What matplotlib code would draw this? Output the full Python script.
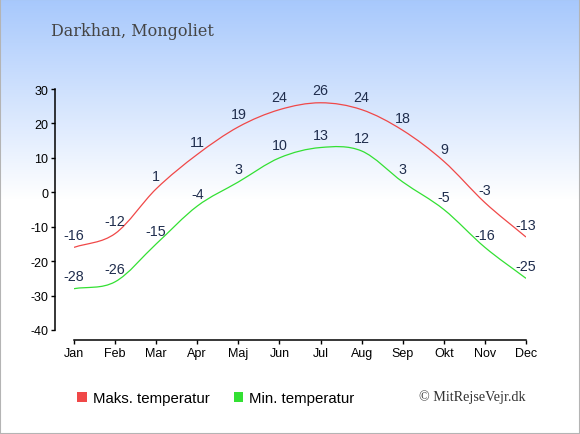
import numpy as np
import matplotlib
matplotlib.use("Agg")
import matplotlib.pyplot as plt
from matplotlib.path import Path
from matplotlib.patches import PathPatch, Patch, Rectangle

plt.rcParams["axes.unicode_minus"] = False

# data
months = ["Jan", "Feb", "Mar", "Apr", "Maj", "Jun", "Jul", "Aug", "Sep", "Okt", "Nov", "Dec"]
max_temp = [-16, -12, 1, 11, 19, 24, 26, 24, 18, 9, -3, -13]
min_temp = [-28, -26, -15, -4, 3, 10, 13, 12, 3, -5, -16, -25]
yticks = [-40, -30, -20, -10, 0, 10, 20, 30]

title = "Darkhan, Mongoliet"
credit = "\u00a9 MitRejseVejr.dk"
lbl_max = "Maks. temperatur"
lbl_min = "Min. temperatur"

red = "#f04848"
green = "#33e033"
label_col = "#1f2d4d"

W, H = 580, 435
fig = plt.figure(figsize=(W / 100, H / 100), dpi=100)

# background gradient
bg = fig.add_axes([0, 0, 1, 1], zorder=-5)
bg.axis("off")
top = np.array([0.655, 0.785, 0.99])
n = 435
frac = np.clip(np.arange(n) / 200.0, 0, 1)[:, None]
grad = top * (1 - frac) + np.ones(3) * frac
bg.imshow(grad[:, None, :].repeat(2, axis=1), aspect="auto", extent=[0, 1, 0, 1])
bg.set_xlim(0, 1)
bg.set_ylim(0, 1)

ax = fig.add_axes([74 / W, (H - 331) / H, (526 - 74) / W, (331 - 90) / H])
ax.set_facecolor("none")
x = np.arange(len(months))


def smooth_path(xs, ys):
    # cubic bezier through the points (catmull-rom style tangents)
    ys = np.asarray(ys, dtype=float)
    m = np.zeros_like(ys)
    m[1:-1] = (ys[2:] - ys[:-2]) / 2
    m[0] = ys[1] - ys[0]
    m[-1] = ys[-1] - ys[-2]
    verts = [(xs[0], ys[0])]
    codes = [Path.MOVETO]
    for i in range(len(xs) - 1):
        verts += [(xs[i] + 1 / 3, ys[i] + m[i] / 3),
                  (xs[i + 1] - 1 / 3, ys[i + 1] - m[i + 1] / 3),
                  (xs[i + 1], ys[i + 1])]
        codes += [Path.CURVE4] * 3
    return Path(verts, codes)


for vals, col in [(max_temp, red), (min_temp, green)]:
    ax.add_patch(PathPatch(smooth_path(x, vals), facecolor="none", edgecolor=col, lw=0.9))
    for xi, v in zip(x, vals):
        ax.annotate(str(v), (xi, v), xytext=(0, 9), textcoords="offset points",
                    ha="center", va="center", fontsize=10.3, color=label_col,
                    family="Liberation Sans")

ax.set_xlim(0, 11)
ax.set_ylim(-40, 30)
ax.set_xticks(x)
ax.set_xticklabels(months)
ax.set_yticks(yticks)
for s in ["top", "right"]:
    ax.spines[s].set_visible(False)
ax.spines["left"].set_position(("outward", 13.7))
ax.spines["bottom"].set_position(("outward", 7.2))
for s in ["left", "bottom"]:
    ax.spines[s].set_linewidth(1.1)
ax.tick_params(length=3, width=1, labelsize=9, pad=2)
for t in ax.get_xticklabels() + ax.get_yticklabels():
    t.set_family("Liberation Sans")

fig.text(51 / W, (H - 32) / H, title, fontsize=11.5, family="DejaVu Serif",
         color="#454545", va="center", ha="left")

handles = [Patch(facecolor=red, edgecolor="none"), Patch(facecolor=green, edgecolor="none")]
fig.legend(handles, [lbl_max, lbl_min], ncol=2, frameon=False,
           loc="center left", bbox_to_anchor=(77 / W, (H - 399) / H),
           prop={"family": "Liberation Sans", "size": 10.8},
           handlelength=0.65, handleheight=0.65, handletextpad=0.4,
           columnspacing=1.6, borderpad=0, borderaxespad=0)

fig.text(526 / W, (H - 397) / H, credit, fontsize=10.2, family="Liberation Serif",
         color="#333333", va="center", ha="right")

fig.add_artist(Rectangle((0, 0), 1, 1, transform=fig.transFigure, fill=False,
                         edgecolor="#b4b4b4", lw=1.5))

fig.savefig("out.png", dpi=100)
